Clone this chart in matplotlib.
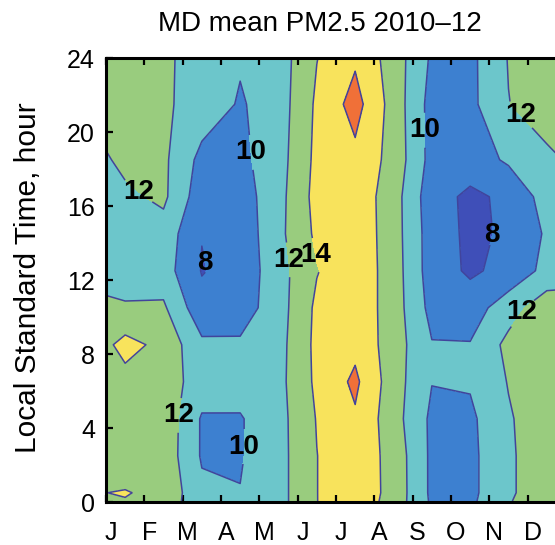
import matplotlib
matplotlib.use('Agg')
import matplotlib.pyplot as plt
import numpy as np
from matplotlib.transforms import ScaledTranslation

plt.rcParams['font.family'] = ['Liberation Sans', 'DejaVu Sans']

# ---- data ----
month_labels = ['J', 'F', 'M', 'A', 'M', 'J', 'J', 'A', 'S', 'O', 'N', 'D']
month_grid = [0, 0.5, 1.5, 2.5, 3.5, 4.5, 5.5, 6.5, 7.5, 8.5, 9.5, 10.5, 11.5, 12]
hour_grid = [0, 0.5, 2.5, 4.5, 6.5, 8.5, 10.5, 12.5, 14.5, 16.5, 18.5, 21.5, 24]
hour_ticks = [0, 4, 8, 12, 16, 20, 24]

pm_h00 = [13.5, 13.9, 13.3, 10.5, 10.3, 11.3, 13.97, 15.3, 13.2, 9.7, 9.6, 11.9, 13.0, 13.0]
pm_h01 = [13.99, 14.1, 13.55, 10.4, 10.05, 11.3, 13.97, 15.4, 13.3, 9.6, 9.5, 11.7, 13.2, 13.2]
pm_h03 = [13.0, 12.9, 13.3, 9.8, 9.85, 11.3, 13.97, 15.4, 13.25, 9.6, 9.5, 11.7, 13.2, 13.2]
pm_h05 = [13.0, 12.9, 13.4, 9.8, 9.85, 11.3, 14.1, 15.75, 12.83, 9.6, 9.6, 11.8, 13.2, 13.2]
pm_h07 = [13.0, 13.35, 13.0, 11.08, 10.8, 11.4, 14.4, 16.4, 12.9, 10.05, 10.2, 12.1, 13.0, 13.0]
pm_h09 = [13.6, 14.65, 13.45, 10.4, 10.3, 11.3, 14.5, 15.5, 13.0, 10.1, 10.1, 12.54, 13.0, 13.0]
pm_h11 = [12.5, 12.2, 12.3, 8.6, 9.0, 11.13, 14.4, 15.4, 13.0, 9.37, 9.0, 11.13, 13.2, 13.0]
pm_h13 = [11.0, 11.1, 10.9, 7.9, 8.7, 11.2, 13.9, 15.4, 13.0, 9.0, 7.7, 8.58, 10.6, 11.0]
pm_h15 = [11.0, 11.2, 11.2, 8.05, 8.7, 11.47, 14.4, 15.4, 12.9, 9.0, 7.6, 8.28, 10.26, 10.6]
pm_h17 = [11.3, 11.6, 12.4, 8.8, 9.0, 11.33, 14.68, 15.3, 12.9, 8.8, 7.6, 8.4, 10.86, 11.2]
pm_h19 = [11.8, 12.5, 12.4, 9.4, 9.5, 11.17, 14.5, 15.5, 13.3, 9.3, 9.0, 10.3, 11.6, 12.1]
pm_h22 = [13.0, 13.0, 12.3, 11.2, 9.8, 11.0, 14.33, 16.75, 13.18, 9.25, 9.5, 11.95, 13.0, 13.0]
pm_h24 = [13.0, 13.0, 12.3, 11.3, 10.2, 11.0, 13.95, 15.7, 13.08, 9.7, 9.5, 12.1, 13.0, 13.0]

fill_levels = [0, 8, 10, 12, 14, 16, 30]
line_levels = [8, 10, 12, 14, 16]
label_levels = [8, 10, 12, 14]
fill_colors = ['#3F4FB8', '#3D80D0', '#6CC6CB', '#99CC7E', '#F8E35C', '#F07038']
label_spots = [(0.89, 16.9), (3.8, 18.9), (2.56, 12.9), (4.8, 13.1), (5.5, 13.35),
               (8.54, 20.1), (10.85, 21.0), (10.1, 14.4), (10.94, 10.1),
               (1.84, 4.7), (3.5, 3.0)]

Z = np.array([pm_h00, pm_h01, pm_h03, pm_h05, pm_h07, pm_h09, pm_h11,
              pm_h13, pm_h15, pm_h17, pm_h19, pm_h22, pm_h24])

fig = plt.figure(figsize=(5.55, 5.45), dpi=100)
ax = fig.add_axes([106 / 555, 43 / 545, 460 / 555, 444 / 545])

ax.contourf(month_grid, hour_grid, Z, levels=fill_levels, colors=fill_colors)
cs = ax.contour(month_grid, hour_grid, Z, levels=line_levels, colors='#41449C', linewidths=1.1)
labels = ax.clabel(cs, levels=label_levels, manual=label_spots, inline=True,
                   inline_spacing=2, fmt='%d', fontsize=20, colors='k')
for t in labels:
    t.set_rotation(0)
    t.set_fontweight('bold')

ax.set_xlim(0, 12)
ax.set_ylim(0, 24)
ax.set_xticks(range(12))
ax.set_xticklabels(month_labels)
ax.set_yticks(hour_ticks)
ax.tick_params(direction='in', length=5, width=1.6, top=True, right=True, labelsize=18)
ax.tick_params(axis='x', pad=14)
ax.tick_params(axis='y', pad=8)
off = ScaledTranslation(5 / 100, 0, fig.dpi_scale_trans)
for lab in ax.get_xticklabels():
    lab.set_transform(lab.get_transform() + off)
for sp in ax.spines.values():
    sp.set_linewidth(2.2)

fig.text(320 / 555, 1 - 24 / 545, 'MD mean PM2.5 2010\u201312', ha='center', va='center', fontsize=20)
fig.text(28 / 555, 1 - 278 / 545, 'Local Standard Time, hour', rotation=90,
         ha='center', va='center', fontsize=21.5)

fig.savefig('out.png', dpi=100)
